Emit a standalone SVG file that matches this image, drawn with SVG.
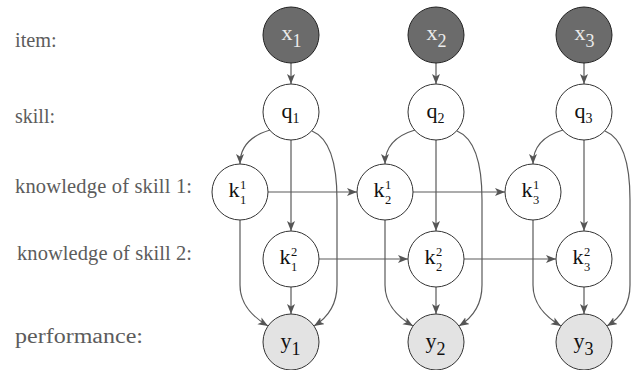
<svg xmlns="http://www.w3.org/2000/svg" width="638" height="370" viewBox="0 0 638 370" font-family="'Liberation Serif', 'Times New Roman', serif">
<defs>
<style>
text{font-family:'Liberation Serif','Times New Roman',serif}
.lbl{font-size:20.5px;fill:#5c5c5c}
.nt{fill:#111;font-size:22px}
.s{font-size:14px}
.ks{font-size:12.5px}
.xs{font-size:18px}
.dark{fill:#6b6b6b;stroke:#222;stroke-width:1}
.white{fill:#fff;stroke:#333;stroke-width:1}
.light{fill:#e3e3e3;stroke:#333;stroke-width:1}
.lt{fill:#ececec}
.e{fill:none;stroke:#5a5a5a;stroke-width:1.2;marker-end:url(#ah)}
</style>
<marker id="ah" markerWidth="12" markerHeight="10" refX="10" refY="4" orient="auto" markerUnits="userSpaceOnUse">
<path d="M0,0 L10,4 L0,8 L2.5,4 z" fill="#555"/>
</marker>
</defs>
<rect width="638" height="370" fill="#fff"/>
<g id="row-labels">
<text class="lbl" x="15" y="47" textLength="41.7" lengthAdjust="spacingAndGlyphs">item:</text>
<text class="lbl" x="15" y="123" textLength="40" lengthAdjust="spacingAndGlyphs">skill:</text>
<text class="lbl" x="15" y="193" textLength="177" lengthAdjust="spacing">knowledge of skill 1:</text>
<text class="lbl" x="17" y="260" textLength="175" lengthAdjust="spacing">knowledge of skill 2:</text>
<text class="lbl" x="15" y="343" textLength="128" lengthAdjust="spacingAndGlyphs">performance:</text>
</g>
<g id="connectors">
<path class="e" d="M291,63 L291,84"/>
<path class="e" d="M291,140 L291,231"/>
<path class="e" d="M291,287 L291,314"/>
<path class="e" d="M270,130 C253,135 240,145 240,164"/>
<path class="e" d="M312,131 C329,138 337,160 337,200 L337,285 C337,305 327,318 314,326"/>
<path class="e" d="M240,220 L240,285 C240,305 253,317 268,326"/>
<path class="e" d="M268,192 L357,192"/>
<path class="e" d="M319,259 L408,259"/>
<path class="e" d="M436,63 L436,84"/>
<path class="e" d="M436,140 L436,231"/>
<path class="e" d="M436,287 L436,314"/>
<path class="e" d="M415,130 C398,135 385,145 385,164"/>
<path class="e" d="M457,131 C474,138 482,160 482,200 L482,285 C482,305 472,318 459,326"/>
<path class="e" d="M385,220 L385,285 C385,305 398,317 413,326"/>
<path class="e" d="M413,192 L505,192"/>
<path class="e" d="M464,259 L556,259"/>
<path class="e" d="M584,63 L584,84"/>
<path class="e" d="M584,140 L584,231"/>
<path class="e" d="M584,287 L584,314"/>
<path class="e" d="M563,130 C546,135 533,145 533,164"/>
<path class="e" d="M605,131 C622,138 630,160 630,200 L630,285 C630,305 620,318 607,326"/>
<path class="e" d="M533,220 L533,285 C533,305 546,317 561,326"/>
</g>
<g id="x1"><circle class="dark" cx="291" cy="35" r="28"/><text class="nt lt" x="281.5" y="40">x<tspan class="xs" dy="6.5">1</tspan></text></g>
<g id="x2"><circle class="dark" cx="436" cy="35" r="28"/><text class="nt lt" x="426.5" y="40">x<tspan class="xs" dy="6.5">2</tspan></text></g>
<g id="x3"><circle class="dark" cx="584" cy="35" r="28"/><text class="nt lt" x="574.5" y="40">x<tspan class="xs" dy="6.5">3</tspan></text></g>
<g id="q1"><circle class="white" cx="291" cy="112" r="28"/><text class="nt" x="281.5" y="118">q<tspan class="s" dy="4.5">1</tspan></text></g>
<g id="q2"><circle class="white" cx="436" cy="112" r="28"/><text class="nt" x="426.5" y="118">q<tspan class="s" dy="4.5">2</tspan></text></g>
<g id="q3"><circle class="white" cx="584" cy="112" r="28"/><text class="nt" x="574.5" y="118">q<tspan class="s" dy="4.5">3</tspan></text></g>
<g id="k1-1"><circle class="white" cx="240" cy="192" r="28"/><text class="nt" x="228.5" y="197">k<tspan class="ks" x="240" dy="-8.5">1</tspan><tspan class="ks" x="240" dy="15">1</tspan></text></g>
<g id="k2-1"><circle class="white" cx="385" cy="192" r="28"/><text class="nt" x="373.5" y="197">k<tspan class="ks" x="385" dy="-8.5">1</tspan><tspan class="ks" x="385" dy="15">2</tspan></text></g>
<g id="k3-1"><circle class="white" cx="533" cy="192" r="28"/><text class="nt" x="521.5" y="197">k<tspan class="ks" x="533" dy="-8.5">1</tspan><tspan class="ks" x="533" dy="15">3</tspan></text></g>
<g id="k1-2"><circle class="white" cx="291" cy="259" r="28"/><text class="nt" x="279.5" y="264">k<tspan class="ks" x="291" dy="-8.5">2</tspan><tspan class="ks" x="291" dy="15">1</tspan></text></g>
<g id="k2-2"><circle class="white" cx="436" cy="259" r="28"/><text class="nt" x="424.5" y="264">k<tspan class="ks" x="436" dy="-8.5">2</tspan><tspan class="ks" x="436" dy="15">2</tspan></text></g>
<g id="k3-2"><circle class="white" cx="584" cy="259" r="28"/><text class="nt" x="572.5" y="264">k<tspan class="ks" x="584" dy="-8.5">2</tspan><tspan class="ks" x="584" dy="15">3</tspan></text></g>
<g id="y1"><circle class="light" cx="291" cy="342" r="28"/><text class="nt" x="280.5" y="348">y<tspan class="xs" dy="7">1</tspan></text></g>
<g id="y2"><circle class="light" cx="436" cy="342" r="28"/><text class="nt" x="425.5" y="348">y<tspan class="xs" dy="7">2</tspan></text></g>
<g id="y3"><circle class="light" cx="584" cy="342" r="28"/><text class="nt" x="573.5" y="348">y<tspan class="xs" dy="7">3</tspan></text></g>
</svg>
